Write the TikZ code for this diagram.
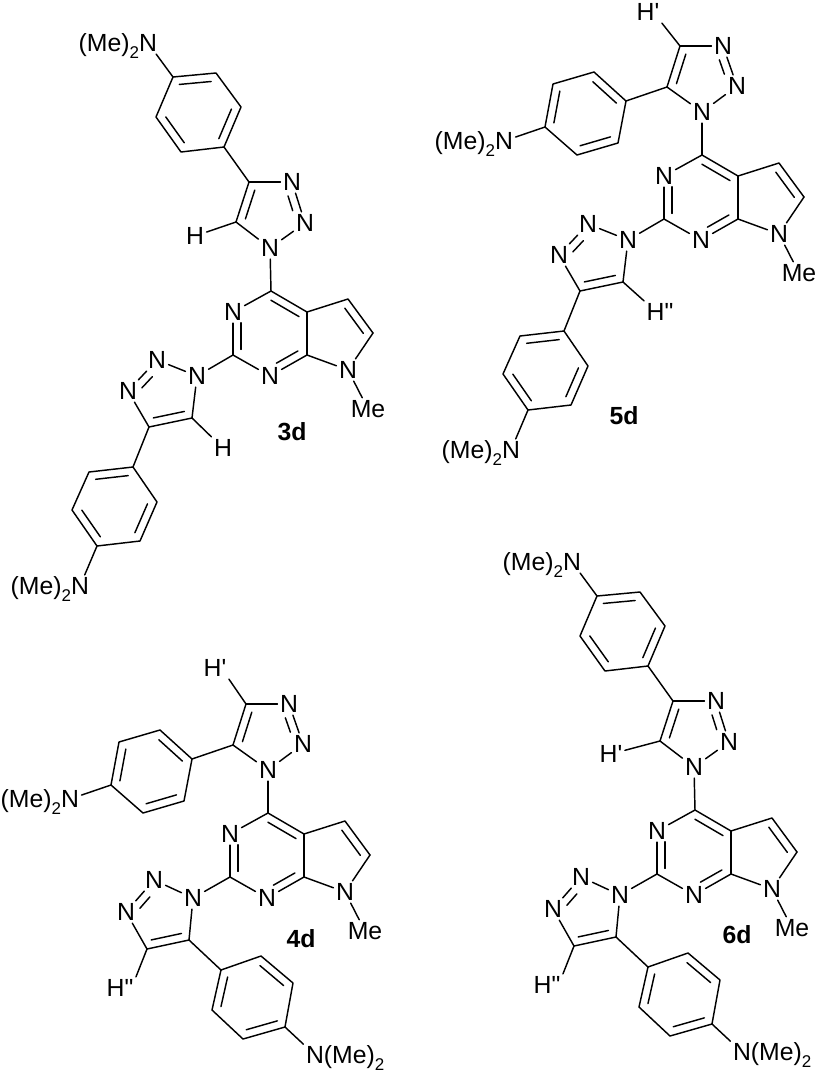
\documentclass[tikz,border=0pt]{standalone}
\usepackage{fontspec}
\setmainfont{Liberation Sans}
\usetikzlibrary{calc}
\newcommand\atomfont{\fontsize{24.8}{28}\selectfont}
\newcommand\subtwo{\raisebox{-0.27em}{\fontsize{17}{17}\selectfont 2}}
\newcommand\hone{H\textquotesingle}
\newcommand\htwo{H\textquotedbl}
\tikzset{
  bond/.style={line width=1.45pt,line cap=round,line join=round,black},
  atom/.style={inner sep=2.6pt,outer sep=0pt,font=\atomfont,text=black},
  tail/.style={inner sep=0pt,outer sep=0pt,font=\atomfont,text=black},
  cpdlabel/.style={inner sep=0pt,font=\atomfont\bfseries,text=black}
}
% inner line of a double bond, on the left of a->b, between two fractions
\newcommand\dbl[4]{\draw[bond] ($(#1)!#3!(#2)!8pt!90:(#2)$) -- ($(#1)!#4!(#2)!8pt!90:(#2)$);}
% benzene ring: prefix, six vertices from the ipso carbon, counter-clockwise on the page
\newcommand\phring[7]{%
  \coordinate (#1v1) at (#2); \coordinate (#1v2) at (#3); \coordinate (#1v3) at (#4);
  \coordinate (#1v4) at (#5); \coordinate (#1v5) at (#6); \coordinate (#1v6) at (#7);
  \draw[bond] (#1v1)--(#1v2)--(#1v3)--(#1v4)--(#1v5)--(#1v6)--cycle;
  \dbl{#1v1}{#1v2}{.13}{.87}\dbl{#1v3}{#1v4}{.13}{.87}\dbl{#1v5}{#1v6}{.13}{.87}}
% triazole: prefix, N1 N2 N3 C4 C5
\newcommand\triaz[6]{%
  \node[atom] (#1n1) at (#2) {N}; \node[atom] (#1n2) at (#3) {N}; \node[atom] (#1n3) at (#4) {N};
  \coordinate (#1c4) at (#5); \coordinate (#1c5) at (#6);
  \draw[bond] (#1n1)--(#1n2); \draw[bond] (#1n2)--(#1n3); \draw[bond] (#1n3)--(#1c4);
  \draw[bond] (#1c4)--(#1c5); \draw[bond] (#1c5)--(#1n1);
  \dbl{#1n2}{#1n3}{.36}{.72}\dbl{#1c4}{#1c5}{.14}{.86}}
\newcommand\leftamine[2]{%
  \node[atom] (#1am) at (#2) {N};
  \node[tail,anchor=base east,xshift=2.6pt] (#1me) at (#1am.base west) {(Me)\subtwo};
  \draw[bond] (#1v4)--(#1am);}
\newcommand\rightamine[2]{%
  \node[atom] (#1am) at (#2) {N};
  \node[tail,anchor=base west,xshift=-2.6pt] (#1me) at (#1am.base east) {(Me)\subtwo};
  \draw[bond] (#1v4)--(#1am);}
% bicyclic core, C4 at the origin of the scope
\newcommand\coreunit[1]{%
  \coordinate (#1c4) at (0,0); \coordinate (#1c2) at (-38,64); \coordinate (#1c7a) at (36,64);
  \coordinate (#1c4a) at (36,21); \coordinate (#1c5) at (77,8); \coordinate (#1c6) at (102,42);
  \node[atom] (#1n3) at (-38,21) {N}; \node[atom] (#1n1) at (-1,85) {N};
  \node[atom] (#1n7) at (77,79) {N}; \node[atom] (#1me) at (97,118) {Me};
  \draw[bond] (#1c4)--(#1n3); \draw[bond] (#1n3)--(#1c2); \draw[bond] (#1c2)--(#1n1);
  \draw[bond] (#1n1)--(#1c7a); \draw[bond] (#1c7a)--(#1c4a); \draw[bond] (#1c4a)--(#1c4);
  \draw[bond] (#1c4a)--(#1c5)--(#1c6); \draw[bond] (#1c6)--(#1n7);
  \draw[bond] (#1n7)--(#1c7a); \draw[bond] (#1n7)--(#1me);
  \dbl{#1n3}{#1c2}{.25}{.87}\dbl{#1n1}{#1c7a}{.28}{.86}\dbl{#1c4a}{#1c4}{.11}{.89}\dbl{#1c6}{#1c5}{.13}{.87}}
% 4-aryl triazole on C4 of the core
\newcommand\topfour[3]{%
  \triaz{#1t}{-1,-43}{34,-68}{21,-109}{-22,-109}{-35,-69}
  \phring{#1p}{-47,-144}{-30,-184}{-55,-218}{-98,-214}{-115,-174}{-90,-139}
  \leftamine{#1p}{-123,-248}
  \node[atom] (#1th) at (#3) {#2};
  \draw[bond] (#1tn1)--(#1c4); \draw[bond] (#1tc4)--(#1pv1); \draw[bond] (#1tc5)--(#1th);}
% 5-aryl triazole on C4 of the core
\newcommand\topfive[3]{%
  \triaz{#1t}{0,-43}{35,-69}{21,-109}{-22,-109}{-35,-68}
  \phring{#1p}{-76,-54}{-108,-83}{-149,-71}{-157,-28}{-125,0}{-84,-12}
  \leftamine{#1p}{-198,-14}
  \node[atom] (#1th) at (#3) {#2};
  \draw[bond] (#1tn1)--(#1c4); \draw[bond] (#1tc5)--(#1pv1); \draw[bond] (#1tc4)--(#1th.south east);}
% 4-aryl triazole on C2 of the core
\newcommand\botfour[3]{%
  \triaz{#1b}{-74,85}{-114,69}{-143,100}{-122,136}{-79,127}
  \phring{#1q}{-138,176}{-182,181}{-199,219}{-174,255}{-131,250}{-114,211}
  \leftamine{#1q}{-191,295}
  \node[atom] (#1bh) at (#3) {#2};
  \draw[bond] (#1bn1)--(#1c2); \draw[bond] (#1bc4)--(#1qv1); \draw[bond] (#1bc5)--(#1bh.north west);}
% 5-aryl triazole on C2 of the core
\newcommand\botfive[3]{%
  \triaz{#1b}{-75,85}{-114,67}{-142,99}{-121,136}{-79,127}
  \phring{#1q}{-47,157}{-56,197}{-25,226}{17,214}{25,170}{-7,143}
  \rightamine{#1q}{47,242}
  \node[atom] (#1bh) at (#3) {#2};
  \draw[bond] (#1bn1)--(#1c2); \draw[bond] (#1bc5)--(#1qv1); \draw[bond] (#1bc4)--(#1bh.north east);}
\begin{document}
\begin{tikzpicture}[x=1pt,y=-1pt]
\useasboundingbox (0,0) rectangle (819,1072);
\begin{scope}[shift={(271,291)}]
  \coreunit{a} \topfour{a}{H}{-76,-55} \botfour{a}{H}{-48,157}
\end{scope}
\node[cpdlabel] (la) at (292,432) {3d};
\begin{scope}[shift={(702,155)}]
  \coreunit{b} \topfive{b}{\hone}{-54,-143} \botfour{b}{\htwo}{-42,157}
\end{scope}
\node[cpdlabel] (lb) at (624,416) {5d};
\begin{scope}[shift={(268,813)}]
  \coreunit{c} \topfive{c}{\hone}{-53,-145} \botfive{c}{\htwo}{-148,175}
\end{scope}
\node[cpdlabel] (lc) at (301,939) {4d};
\begin{scope}[shift={(695,810)}]
  \coreunit{d} \topfour{d}{\hone}{-84,-56} \botfive{d}{\htwo}{-148,175}
\end{scope}
\node[cpdlabel] (ld) at (737,935) {6d};
\end{tikzpicture}
\end{document}
